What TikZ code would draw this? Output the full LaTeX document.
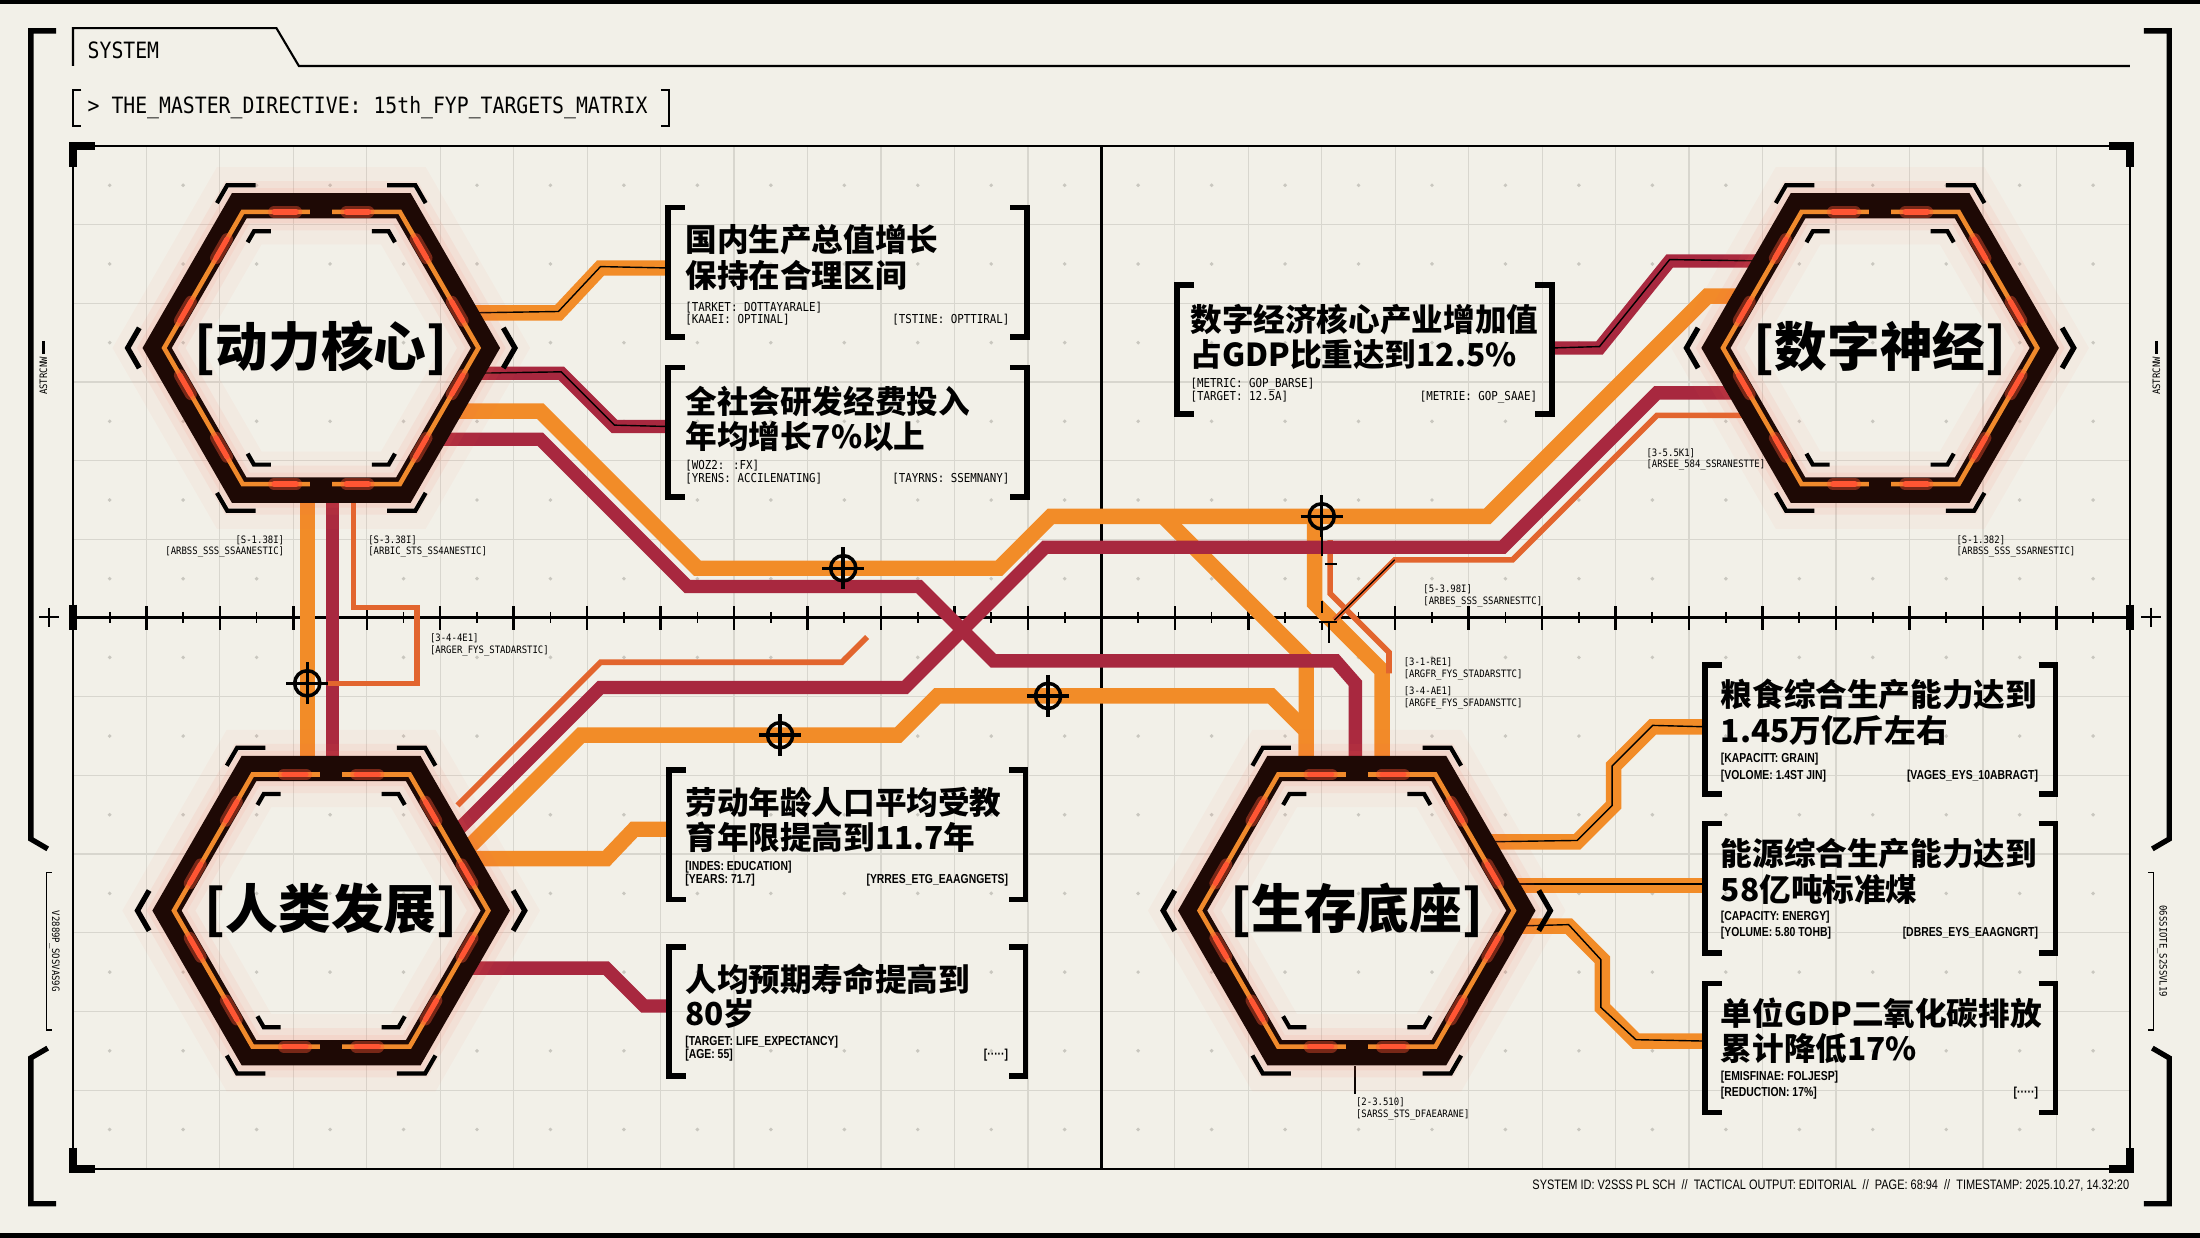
\documentclass[tikz,border=0pt]{standalone}
\usepackage{fontspec}
\usetikzlibrary{calc}

\newfontfamily\cjk{Noto Sans CJK SC}
\newfontfamily\monof{DejaVu Sans Mono}[FakeStretch=0.88]
\newfontfamily\condf{Liberation Sans}[FakeStretch=0.8]

\definecolor{paper}{HTML}{F2F0E8}
\definecolor{gridgray}{HTML}{D8D6CE}
\definecolor{dotgray}{HTML}{C9C7BF}
\definecolor{wireorange}{HTML}{F28C28}
\definecolor{wirecrimson}{HTML}{A8283F}
\definecolor{wireember}{HTML}{E2652E}
\definecolor{hexdark}{HTML}{1E0905}
\definecolor{hexorange}{HTML}{F08A2C}
\definecolor{hexled}{HTML}{FF5533}
\definecolor{hexglow}{HTML}{FF6A4D}

\tikzset{
  gridline/.style={gridgray, line width=0.35pt},
  griddot/.style={dotgray},
  axisline/.style={black, line width=0.7pt},
  frameline/.style={black, line width=0.6pt},
  cornerline/.style={black, line width=2.4pt, line join=miter},
  outerbracket/.style={black, line width=1.5pt, line join=miter},
  orangewire/.style={wireorange, line width=4.4pt, line join=miter},
  crimsonwire/.style={wirecrimson, line width=3.8pt, line join=miter},
  emberwire/.style={wireember, line width=1.6pt, line join=miter},
  pinline/.style={black, line width=0.4pt, line join=miter},
  bracketline/.style={black, line width=1.6pt, line join=miter},
  hexbracket/.style={black, line width=1.2pt, line join=miter},
  hexchevron/.style={black, line width=1.5pt, line join=miter},
  hexledglow/.style={hexled, opacity=0.4, line width=3.4pt, line cap=round},
  hexledcore/.style={hexled, line width=1.5pt, line cap=round},
  hexlabel/.style={font=\cjk\bfseries\fontsize{15pt}{18pt}\selectfont, inner sep=0},
  goaltext/.style={font=\cjk\bfseries\fontsize{9pt}{10pt}\selectfont, inner sep=0},
  monosmall/.style={font=\monof\fontsize{3.5pt}{4pt}\selectfont, inner sep=0},
  condsmall/.style={font=\condf\bfseries\fontsize{3.7pt}{4.2pt}\selectfont, inner sep=0},
  tinylabel/.style={font=\monof\fontsize{2.9pt}{3.4pt}\selectfont, align=left, inner sep=0},
  headertext/.style={font=\monof\fontsize{6.4pt}{7pt}\selectfont, inner sep=0},
  footertext/.style={font=\condf\fontsize{3.9pt}{5pt}\selectfont, inner sep=0},
  reticle/.style={black, line width=1pt},
  tickmark/.style={black, line width=0.6pt},
}

% one closed hexagon, pointy left and right
\newcommand{\hexloop}[2]{\draw[#1] (0:#2) -- (60:#2) -- (120:#2) -- (180:#2) -- (240:#2) -- (300:#2) -- cycle;}

% hub: glow, dark ring, orange stripe, leds, brackets, label
\newcommand{\hexhub}[4]{%
\begin{scope}[shift={(#1,#2)}]
  \hexloop{hexglow, opacity=0.045, line width=22pt}{117}
  \hexloop{hexglow, opacity=0.07, line width=14pt}{117}
  \hexloop{hexglow, opacity=0.08, line width=10pt}{117}
  \hexloop{hexdark, line width=7.2pt, line join=miter}{117}
  \hexloop{hexorange, line width=1.3pt, line join=miter}{112}
  \draw[hexdark, line width=2.4pt] ($(240:112)!0.43!(300:112)$) -- ($(240:112)!0.57!(300:112)$);
  \draw[hexdark, line width=2.4pt] ($(60:112)!0.43!(120:112)$) -- ($(60:112)!0.57!(120:112)$);
  \foreach \a in {0,60,...,300} {
    \pgfmathtruncatemacro\b{\a+60}
    \draw[hexledglow] ($(\a:112)!0.2!(\b:112)$) -- ($(\a:112)!0.34!(\b:112)$);
    \draw[hexledglow] ($(\a:112)!0.66!(\b:112)$) -- ($(\a:112)!0.8!(\b:112)$);
    \draw[hexledcore] ($(\a:112)!0.2!(\b:112)$) -- ($(\a:112)!0.34!(\b:112)$);
    \draw[hexledcore] ($(\a:112)!0.66!(\b:112)$) -- ($(\a:112)!0.8!(\b:112)$);
  }
  % corner brackets, outside and inside
  \foreach \a/\h/\s in {240/300/180, 300/240/0, 60/120/0, 120/60/180} {
    \draw[hexbracket] ($(\a:134)!0.11!(\s:134)$) -- (\a:134) -- ($(\a:134)!0.15!(\h:134)$);
    \draw[hexbracket] ($(\a:96)!0.094!(\s:96)$) -- (\a:96) -- ($(\a:96)!0.125!(\h:96)$);
  }
  % side chevrons
  \foreach \a/\p/\q in {0/60/300, 180/120/240}
    \draw[hexchevron] ($(\a:138)!0.12!(\p:138)$) -- (\a:138) -- ($(\a:138)!0.12!(\q:138)$);
  \node[hexlabel] (#3) at (0,0) {#4};
\end{scope}}

% square brackets round a target text
\newcommand{\goalbrackets}[3]{%
  \draw[bracketline] ({#1+12},#2) -- (#1,#2) -- (#1,{#2+92}) -- ({#1+12},{#2+92});
  \draw[bracketline] ({#3-12},#2) -- (#3,#2) -- (#3,{#2+92}) -- ({#3-12},{#2+92});}

% crosshair on a wire
\newcommand{\reticle}[3]{%
  \draw[reticle] (#2,#3) circle (9);
  \draw[reticle] ({#2-15},#3) -- ({#2+15},#3) (#2,{#3-15}) -- (#2,{#3+15});
  \fill (#2,#3) circle (1.6);
  \coordinate (#1) at (#2,#3);}

\begin{document}
\begin{tikzpicture}[x=0.014031cm, y=-0.014031cm]
\useasboundingbox (0,0) rectangle (1568,882);
\fill[paper] (0,0) rectangle (1568,882);
\fill[black] (0,0) rectangle (1568,3);
\fill[black] (0,879) rectangle (1568,882);

% board grid
\foreach \i in {1,...,27}
  \draw[gridline] ({52+52.357*\i},104) -- ({52+52.357*\i},833);
\foreach \j in {1,...,12}
  \draw[gridline] (52,{104+56.08*\j}) -- (1518,{104+56.08*\j});
\foreach \i in {0,...,27}
  \foreach \j in {0,...,12}
    \fill[griddot] ({78.18+52.357*\i},{132.04+56.08*\j}) circle (1.4);

% axes
\draw[axisline] (52,440) -- (1518,440);
\draw[axisline] (785,104) -- (785,833);
\foreach \i in {0,...,28}
  \draw[axisline] ({52+52.357*\i},432) -- ({52+52.357*\i},449);
\foreach \i in {0,...,27}
  \draw[axisline, line width=0.5pt] ({78.18+52.357*\i},436) -- ({78.18+52.357*\i},444);

% board frame
\draw[frameline] (52,104) rectangle (1518,833);
\draw[cornerline] (52,119) -- (52,104) -- (68,104);
\draw[cornerline] (1503,104) -- (1518,104) -- (1518,119);
\draw[cornerline] (52,818) -- (52,833) -- (68,833);
\draw[cornerline] (1503,833) -- (1518,833) -- (1518,818);
\draw[cornerline] (52,431) -- (52,449);
\draw[cornerline] (1518,431) -- (1518,449);
\draw[tickmark] (28,440) -- (42,440) (35,433) -- (35,447);
\draw[tickmark] (1526,440) -- (1540,440) (1533,433) -- (1533,447);

% outer brackets
\draw[outerbracket] (40,22) -- (22,22) -- (22,598) -- (34,605);
\draw[outerbracket] (34,747) -- (22,754) -- (22,858) -- (40,858);
\draw[outerbracket] (1528,22) -- (1546,22) -- (1546,598) -- (1534,605);
\draw[outerbracket] (1534,747) -- (1546,754) -- (1546,858) -- (1528,858);
\draw[frameline, line width=0.4pt] (37,622) -- (33,622) -- (33,734) -- (37,734);
\draw[frameline, line width=0.4pt] (1531,622) -- (1535,622) -- (1535,734) -- (1531,734);
\node[tinylabel, rotate=-90] (sideL) at (39,678) {V2889P\_SOSVAS9G};
\node[tinylabel, rotate=-90] (sideR) at (1541,678) {06SSIOTE\_S2SSVL19};
\node[tinylabel, rotate=90] (tagL) at (31,268) {ASTRCNW};
\node[tinylabel, rotate=90] (tagR) at (1537,268) {ASTRCNW};
\draw[black, line width=0.8pt] (31,243) -- (31,252);
\draw[black, line width=0.8pt] (1537,243) -- (1537,252);

% header
\draw[frameline] (52,47) -- (52,20) -- (197,20) -- (213,47) -- (1518,47);
\node[headertext, anchor=west] (title) at (62,36) {SYSTEM};
\draw[frameline] (58,64) -- (52,64) -- (52,90) -- (58,90);
\draw[frameline] (471,64) -- (477,64) -- (477,90) -- (471,90);
\node[headertext, anchor=west] (directive) at (62,77) {> THE\_MASTER\_DIRECTIVE: 15th\_FYP\_TARGETS\_MATRIX};

% wire end points
\coordinate (p1a) at (334,223);  \coordinate (gA) at (477,191);
\coordinate (p1b) at (338,266);  \coordinate (gB) at (477,304);
\coordinate (p1c) at (322,293);  \coordinate (d2c) at (1243,211);
\coordinate (p1d) at (311,313);  \coordinate (b4d) at (966,550);
\coordinate (h3e) at (322,596);  \coordinate (d2e) at (1240,280);
\coordinate (d2f) at (1249,296);
\coordinate (h3f) at (332,606);  \coordinate (b4f) at (931,550);
\coordinate (h3g) at (326,574);
\coordinate (h3d) at (334,612);  \coordinate (gD) at (478,591);
\coordinate (h3h) at (332,690);  \coordinate (gE) at (478,717);
\coordinate (gC) at (1106,248);  \coordinate (d2g) at (1257,186);
\coordinate (b4a) at (1058,600); \coordinate (gF) at (1216,518);
\coordinate (b4b) at (1076,631); \coordinate (gG) at (1216,631);
\coordinate (b4c) at (1080,660); \coordinate (gH) at (1216,742);

% links down from the power core
\draw[orangewire] (219,345) -- (219,550);
\draw[crimsonwire] (237,345) -- (237,550);
\draw[emberwire] (252,345) -- (252,433) -- (297,433) -- (297,487) -- (234,487);

% links across the board
\draw[orangewire] (p1a) -- (398,223) -- (428,191) -- (gA);
\draw[pinline] (p1a) -- (398,222) -- (428,190) -- (gA);
\draw[crimsonwire] (p1b) -- (400,266) -- (438,304) -- (gB);
\draw[pinline] (p1b) -- (400,265) -- (438,303) -- (gB);
\draw[orangewire] (937,368) -- (937,430) -- (985,478) -- (985,550);
\draw[orangewire] (829,368) -- (931,470) -- (b4f);
\draw[emberwire] (948,385) -- (948,423) -- (990,465) -- (990,480);
\draw[orangewire] (p1c) -- (385,293) -- (497,405) -- (712,405) -- (749,368) -- (1060,368) -- (1217,211) -- (d2c);
\draw[crimsonwire] (p1d) -- (385,313) -- (490,418) -- (655,418) -- (708,471) -- (952,471) -- (966,487) -- (b4d);
\draw[emberwire] (h3g) -- (428,472) -- (600,472) -- (618,454);
\draw[crimsonwire] (h3e) -- (428,490) -- (645,490) -- (745,390) -- (1071,390) -- (1181,280) -- (d2e);
\draw[emberwire] (d2f) -- (1181,296) -- (1078,399) -- (994,399) -- (951,442);
\draw[pinline] (994,399) -- (951,442);
\draw[orangewire] (h3f) -- (414,524) -- (640,524) -- (668,496) -- (906,496) -- (931,521) -- (b4f);
\draw[orangewire] (h3d) -- (432,612) -- (452,591) -- (gD);
\draw[crimsonwire] (h3h) -- (432,690) -- (459,717) -- (gE);
\draw[crimsonwire] (gC) -- (1140,248) -- (1190,186) -- (d2g);
\draw[pinline] (gC) -- (1140,247) -- (1190,185) -- (d2g);
\draw[orangewire] (b4a) -- (1124,600) -- (1150,574) -- (1150,546) -- (1178,518) -- (gF);
\draw[pinline] (b4a) -- (1124,599) -- (1149,574) -- (1149,546) -- (1178,517) -- (gF);
\draw[orangewire] (b4b) -- (gG);
\draw[pinline] ($(b4b)+(0,-1)$) -- ($(gG)+(0,-1)$);
\draw[orangewire] (b4c) -- (1118,660) -- (1142,684) -- (1142,718) -- (1166,742) -- (gH);
\draw[pinline] (b4c) -- (1118,659) -- (1141,684) -- (1141,718) -- (1166,741) -- (gH);

% crosshairs and marks
\reticle{rA}{601}{405}
\reticle{rB}{942}{368}
\reticle{rC}{747}{496}
\reticle{rD}{556}{524}
\reticle{rE}{219}{487}
\draw[tickmark] (942,383) -- (942,396) (944,402) -- (953,402);
\draw[tickmark] (942,428) -- (942,437) (940,443) -- (953,443) (947,443) -- (947,458);
\draw[tickmark] (966,760) -- (966,780);

% hubs
\hexhub{229}{248}{hubPower}{[动力核心]}
\hexhub{1340}{248}{hubDigital}{[数字神经]}
\hexhub{236}{649}{hubHuman}{[人类发展]}
\hexhub{967}{649}{hubBase}{[生存底座]}

% targets of the power core
\goalbrackets{476}{148}{732}
\node[goaltext, anchor=west] (a1) at (488,171) {国内生产总值增长};
\node[goaltext, anchor=west] (a2) at (488,196) {保持在合理区间};
\node[monosmall, anchor=west] (a3) at (488,219) {[TARKET: DOTTAYARALE]};
\node[monosmall, anchor=west] (a4) at (488,228) {[KAAEI: OPTINAL]};
\node[monosmall, anchor=east] (a5) at (720,228) {[TSTINE: OPTTIRAL]};

\goalbrackets{476}{262}{732}
\node[goaltext, anchor=west] (b1) at (488,286) {全社会研发经费投入};
\node[goaltext, anchor=west] (b2) at (488,311) {年均增长7\%以上};
\node[monosmall, anchor=west] (b3) at (488,332) {[WOZ2: :FX]};
\node[monosmall, anchor=west] (b4) at (488,341) {[YRENS: ACCILENATING]};
\node[monosmall, anchor=east] (b5) at (720,341) {[TAYRNS: SSEMNANY]};

% target of the digital nerve
\goalbrackets{839}{203}{1106}
\node[goaltext, anchor=west] (c1) at (848,228) {数字经济核心产业增加值};
\node[goaltext, anchor=west] (c2) at (848,253) {占GDP比重达到12.5\%};
\node[monosmall, anchor=west] (c3) at (848,274) {[METRIC: GOP\_BARSE]};
\node[monosmall, anchor=west] (c4) at (848,283) {[TARGET: 12.5A]};
\node[monosmall, anchor=east] (c5) at (1096,283) {[METRIE: GOP\_SAAE]};

% targets of human development
\goalbrackets{477}{549}{731}
\node[goaltext, anchor=west] (d1) at (488,572) {劳动年龄人口平均受教};
\node[goaltext, anchor=west] (d2) at (488,597) {育年限提高到11.7年};
\node[condsmall, anchor=west] (d3) at (488,618) {[INDES: EDUCATION]};
\node[condsmall, anchor=west] (d4) at (488,627) {[YEARS: 71.7]};
\node[condsmall, anchor=east] (d5) at (719,627) {[YRRES\_ETG\_EAAGNGETS]};

\goalbrackets{477}{675}{731}
\node[goaltext, anchor=west] (e1) at (488,698) {人均预期寿命提高到};
\node[goaltext, anchor=west] (e2) at (488,722) {80岁};
\node[condsmall, anchor=west] (e3) at (488,743) {[TARGET: LIFE\_EXPECTANCY]};
\node[condsmall, anchor=west] (e4) at (488,752) {[AGE: 55]};
\node[condsmall, anchor=east] (e5) at (719,752) {[·····]};

% targets of the survival base
\goalbrackets{1215}{474}{1465}
\node[goaltext, anchor=west] (f1) at (1226,495) {粮食综合生产能力达到};
\node[goaltext, anchor=west] (f2) at (1226,521) {1.45万亿斤左右};
\node[condsmall, anchor=west] (f3) at (1226,541) {[KAPACITT: GRAIN]};
\node[condsmall, anchor=west] (f4) at (1226,553) {[VOLOME: 1.4ST JIN]};
\node[condsmall, anchor=east] (f5) at (1453,553) {[VAGES\_EYS\_10ABRAGT]};

\goalbrackets{1215}{587}{1465}
\node[goaltext, anchor=west] (g1) at (1226,608) {能源综合生产能力达到};
\node[goaltext, anchor=west] (g2) at (1226,634) {58亿吨标准煤};
\node[condsmall, anchor=west] (g3) at (1226,654) {[CAPACITY: ENERGY]};
\node[condsmall, anchor=west] (g4) at (1226,665) {[YOLUME: 5.80 TOHB]};
\node[condsmall, anchor=east] (g5) at (1453,665) {[DBRES\_EYS\_EAAGNGRT]};

\goalbrackets{1215}{701}{1465}
\node[goaltext, anchor=west] (k1) at (1226,722) {单位GDP二氧化碳排放};
\node[goaltext, anchor=west] (k2) at (1226,747) {累计降低17\%};
\node[condsmall, anchor=west] (k3) at (1226,768) {[EMISFINAE: FOLJESP]};
\node[condsmall, anchor=west] (k4) at (1226,779) {[REDUCTION: 17\%]};
\node[condsmall, anchor=east] (k5) at (1453,779) {[·····]};

% small probe labels
\node[tinylabel, align=right, anchor=north east] (l1) at (203,381) {[S-1.38I]\\{}[ARBSS\_SSS\_SSAANESTIC]};
\node[tinylabel, anchor=north west] (l2) at (262,381) {[S-3.38I]\\{}[ARBIC\_STS\_SS4ANESTIC]};
\node[tinylabel, anchor=north west] (l3) at (306,451) {[3-4-4E1]\\{}[ARGER\_FYS\_STADARSTIC]};
\node[tinylabel, anchor=north west] (l4) at (1014,416) {[5-3.98I]\\{}[ARBES\_SSS\_SSARNESTTC]};
\node[tinylabel, anchor=north west] (l5) at (1000,468) {[3-1-RE1]\\{}[ARGFR\_FYS\_STADARSTTC]};
\node[tinylabel, anchor=north west] (l6) at (1000,489) {[3-4-AE1]\\{}[ARGFE\_FYS\_SFADANSTTC]};
\node[tinylabel, anchor=north west] (l7) at (1173,319) {[3-5.5K1]\\{}[ARSEE\_584\_SSRANESTTE]};
\node[tinylabel, anchor=north west] (l8) at (1394,381) {[S-1.382]\\{}[ARBSS\_SSS\_SSARNESTIC]};
\node[tinylabel, anchor=north west] (l9) at (966,782) {[2-3.510]\\{}[SARSS\_STS\_DFAEARANE]};

% footer
\node[footertext, anchor=east] (footer) at (1518,845) {SYSTEM ID: V2SSS PL SCH \ // \ TACTICAL OUTPUT: EDITORIAL \ // \ PAGE: 68:94 \ // \ TIMESTAMP: 2025.10.27, 14.32:20};
\end{tikzpicture}
\end{document}
